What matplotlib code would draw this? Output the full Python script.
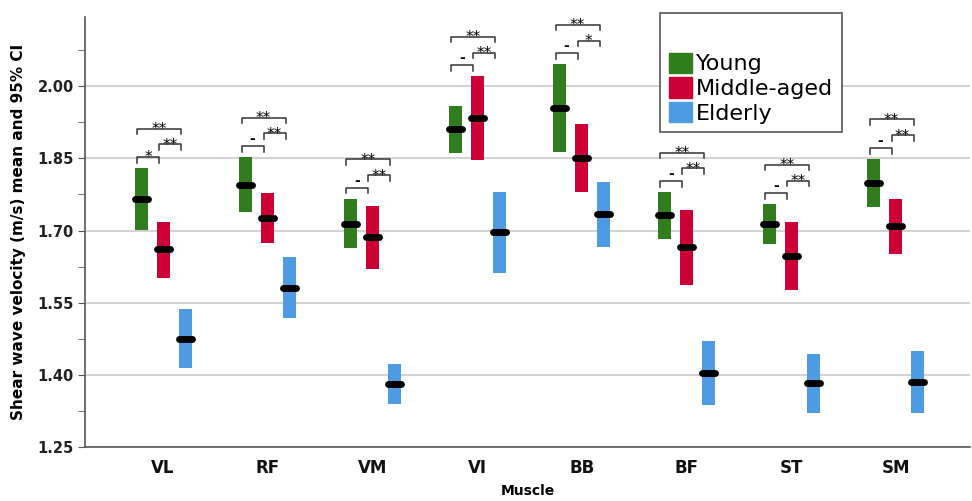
import matplotlib.pyplot as plt
import matplotlib.patches as patches
import numpy as np

# mean and 95% CI per muscle and age group
muscles = ["VL", "RF", "VM", "VI", "BB", "BF", "ST", "SM"]
groups = ["Young", "Middle-aged", "Elderly"]

young_mean = [1.766, 1.795, 1.714, 1.911, 1.955, 1.732, 1.714, 1.799]
young_lo = [1.701, 1.739, 1.664, 1.861, 1.863, 1.682, 1.672, 1.749]
young_hi = [1.830, 1.853, 1.766, 1.959, 2.046, 1.780, 1.755, 1.849]

middle_mean = [1.661, 1.726, 1.687, 1.934, 1.851, 1.666, 1.647, 1.709]
middle_lo = [1.601, 1.674, 1.620, 1.847, 1.780, 1.587, 1.576, 1.651]
middle_hi = [1.718, 1.778, 1.751, 2.021, 1.921, 1.743, 1.718, 1.766]

elderly_mean = [1.475, 1.581, 1.381, 1.697, 1.734, 1.404, 1.383, 1.385]
elderly_lo = [1.414, 1.518, 1.339, 1.612, 1.666, 1.337, 1.321, 1.321]
elderly_hi = [1.537, 1.645, 1.423, 1.780, 1.801, 1.470, 1.443, 1.450]

# significance: young-middle, middle-elderly, young-elderly
sig_ym = ["*", "-", "-", "-", "-", "-", "-", "-"]
sig_me = ["**", "**", "**", "**", "*", "**", "**", "**"]
sig_ye = ["**", "**", "**", "**", "**", "**", "**", "**"]

colors = ["#2f7d1c", "#cc0035", "#4d9be3"]

fig = plt.figure(figsize=(9.72, 5.01), dpi=100)
ax = fig.add_axes([0.0875, 0.108, 0.9105, 0.859])

x = np.arange(len(muscles))
offsets = [-0.21, 0.0, 0.21]
bar_w = 0.124
series = [(young_mean, young_lo, young_hi),
          (middle_mean, middle_lo, middle_hi),
          (elderly_mean, elderly_lo, elderly_hi)]

for (mean, lo, hi), off, col in zip(series, offsets, colors):
    lo = np.array(lo)
    hi = np.array(hi)
    ax.bar(x + off, hi - lo, bottom=lo, width=bar_w, color=col, zorder=3)
    for xi, m in zip(x + off, mean):
        ax.plot([xi - 0.062, xi + 0.062], [m, m], color="black", lw=5,
                solid_capstyle="round", zorder=4)

# brackets
def bracket(x1, x2, y, label):
    d = 0.012
    ax.plot([x1, x1, x2, x2], [y - d, y, y, y - d], color="#333333", lw=1.1, zorder=5)
    if label == "-":
        ax.annotate("-", ((x1 + x2) / 2, y), xytext=(0, 0), textcoords="offset points",
                    ha="center", va="bottom", fontsize=10, fontweight="bold")
    else:
        ax.annotate(label, ((x1 + x2) / 2, y), xytext=(0, -4), textcoords="offset points",
                    ha="center", va="baseline", fontsize=11)

shift = -0.04
for i in x:
    y1 = max(young_hi[i], middle_hi[i]) + 0.023
    y2 = y1 + 0.026
    y3 = y2 + 0.033
    bracket(i + offsets[0] + shift, i + offsets[1] + shift, y1, sig_ym[i])
    bracket(i + offsets[1] + shift, i + offsets[2] + shift, y2, sig_me[i])
    bracket(i + offsets[0] + shift, i + offsets[2] + shift, y3, sig_ye[i])

ax.set_xlim(-0.746, 7.71)
ax.set_ylim(1.25, 2.145)
ax.set_yticks([1.25, 1.40, 1.55, 1.70, 1.85, 2.00])
ax.set_yticks([1.325, 1.475, 1.625, 1.775, 1.925, 2.075], minor=True)
ax.set_yticklabels(["1.25", "1.40", "1.55", "1.70", "1.85", "2.00"],
                   fontsize=10.5, fontweight="bold", color="#222222")
ax.set_xticks(x)
ax.set_xticklabels(muscles, fontsize=12, fontweight="bold", color="#111111")
ax.tick_params(axis="x", length=0, pad=9)
ax.tick_params(axis="y", which="both", length=5, color="#555555", pad=3)

ax.grid(axis="y", color="#d2d2d2", lw=1.4, zorder=0)
ax.set_axisbelow(True)
for s in ["top", "right"]:
    ax.spines[s].set_visible(False)
for s in ["left", "bottom"]:
    ax.spines[s].set_color("#555555")
    ax.spines[s].set_linewidth(1.2)

ax.set_ylabel("Shear wave velocity (m/s) mean and 95% CI", fontsize=11,
              fontweight="bold", labelpad=8)
ax.set_xlabel("Muscle", fontsize=10, fontweight="bold", labelpad=5)

handles = [patches.Patch(color=c, label=g) for c, g in zip(colors, groups)]
leg = ax.legend(handles=handles, title=" ", loc="upper left",
                bbox_to_anchor=(660 / 972, 1 - 13 / 501), bbox_transform=fig.transFigure,
                fontsize=16, title_fontsize=20, frameon=True, fancybox=False,
                framealpha=1, edgecolor="#555555", handlelength=1.05, handleheight=1.05,
                handletextpad=0.15, labelspacing=0.12, borderpad=0.4, borderaxespad=0)
leg.get_frame().set_linewidth(1.2)

plt.savefig("out.png", dpi=100)
